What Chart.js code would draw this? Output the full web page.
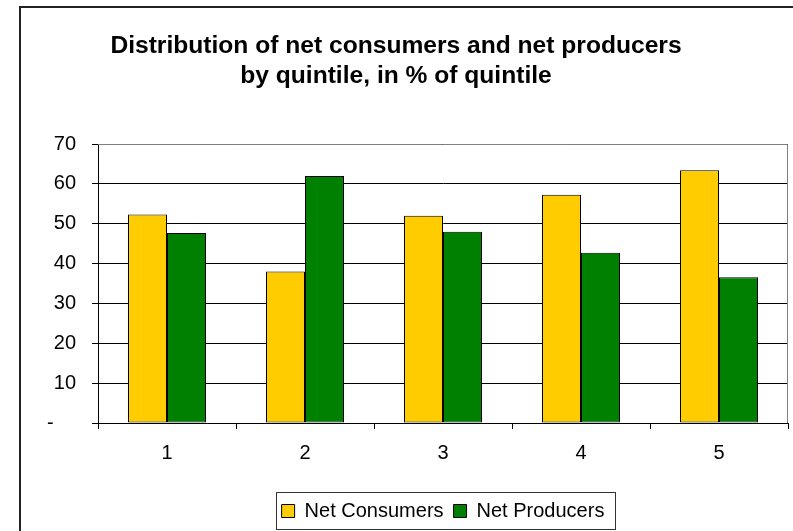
<!DOCTYPE html>
<html>
<head>
<meta charset="utf-8">
<script src="https://cdn.jsdelivr.net/npm/chart.js@4.4.1/dist/chart.umd.min.js"></script>
<style>
  html, body { margin: 0; padding: 0; background: #fff; }
  #chart { display: block; }
</style>
</head>
<body>
<canvas id="chart" width="793" height="531"></canvas>
<script>
// values
var quintiles = ['1', '2', '3', '4', '5'];
var netConsumers = [52.3, 38.0, 52.0, 57.3, 63.4];
var netProducers = [47.7, 62.0, 48.0, 42.7, 36.6];
var yTickLabels = ['-    ', '10', '20', '30', '40', '50', '60', '70'];
var titleLines = ['Distribution of net consumers and net producers', 'by quintile, in % of quintile'];

Chart.defaults.font.family = '"Liberation Sans", Arial, sans-serif';
Chart.defaults.color = '#000';

// frame of the chart, legend box and plot-area border
var decorations = {
    id: 'decorations',
    afterLayout: function(chart) {
        // Excel centres the legend on the plot area, the title on the chart
        var lg = chart.legend;
        var d = (chart.chartArea.left + chart.chartArea.right) / 2 - (lg.left + lg.right) / 2;
        lg.left += d;
        lg.right += d;
        var t = chart.titleBlock;
        var dt = 396 - (t.left + t.right) / 2;
        t.left += dt;
        t.right += dt;
    },
    beforeDraw: function(chart) {
        var ctx = chart.ctx;
        ctx.save();
        ctx.fillStyle = '#fff';
        ctx.fillRect(0, 0, chart.width, chart.height);
        ctx.strokeStyle = '#222';
        ctx.lineWidth = 2;
        ctx.beginPath();
        ctx.moveTo(20, chart.height);
        ctx.lineTo(20, 7);
        ctx.lineTo(chart.width, 7);
        ctx.stroke();
        ctx.restore();
    },
    afterDatasetsDraw: function(chart) {
        var a = chart.chartArea;
        var ctx = chart.ctx;
        ctx.save();
        ctx.strokeStyle = '#808080';
        ctx.lineWidth = 1;
        ctx.beginPath();
        ctx.moveTo(a.left, a.top + 0.5);
        ctx.lineTo(a.right - 0.5, a.top + 0.5);
        ctx.lineTo(a.right - 0.5, a.bottom);
        ctx.stroke();
        ctx.restore();
    },
    afterDraw: function(chart) {
        var hb = chart.legend.legendHitBoxes;
        if (!hb || !hb.length) return;
        var l = Infinity, r = -Infinity, t = Infinity, b = -Infinity;
        hb.forEach(function(h) {
            l = Math.min(l, h.left);
            r = Math.max(r, h.left + h.width);
            t = Math.min(t, h.top);
            b = Math.max(b, h.top + h.height);
        });
        var ctx = chart.ctx;
        ctx.save();
        ctx.strokeStyle = '#333';
        ctx.lineWidth = 1;
        ctx.strokeRect(Math.round(l - 6) + 0.5, Math.round(t - 9) + 0.5, Math.round(r - l + 16), Math.round(b - t + 17));
        ctx.restore();
    }
};

new Chart(document.getElementById('chart'), {
    type: 'bar',
    data: {
        labels: quintiles,
        datasets: [{
            label: 'Net Consumers',
            data: netConsumers,
            backgroundColor: '#FFCC00',
            borderColor: '#000',
            borderWidth: 1,
            borderSkipped: false
        }, {
            label: 'Net Producers',
            data: netProducers,
            backgroundColor: '#008000',
            borderColor: '#000',
            borderWidth: 1,
            borderSkipped: false
        }]
    },
    options: {
        responsive: false,
        animation: false,
        devicePixelRatio: 1,
        layout: { padding: { left: 0, right: 5, top: 0, bottom: 0 } },
        datasets: {
            bar: { categoryPercentage: 78 / 138, barPercentage: 1.0 }
        },
        plugins: {
            title: {
                display: true,
                text: titleLines,
                color: '#000',
                font: { size: 24.6, weight: 'bold', lineHeight: 1.22 },
                padding: { top: 31, bottom: 53 }
            },
            legend: {
                position: 'bottom',
                labels: {
                    boxWidth: 13,
                    boxHeight: 13,
                    padding: 10,
                    color: '#000',
                    font: { size: 20 }
                }
            },
            tooltip: { enabled: false }
        },
        scales: {
            x: {
                grid: {
                    drawOnChartArea: false,
                    drawTicks: true,
                    tickLength: 6,
                    color: '#000',
                    offset: true
                },
                border: { color: '#000' },
                ticks: { padding: 12, font: { size: 20 }, color: '#000' },
                afterFit: function(scale) { scale.height = 68; }
            },
            y: {
                min: 0,
                max: 70,
                grid: {
                    color: '#000',
                    tickLength: 6
                },
                border: { color: '#000' },
                ticks: {
                    stepSize: 10,
                    padding: 16,
                    font: { size: 20 },
                    color: '#000',
                    callback: function(value) { return yTickLabels[value / 10]; }
                },
                afterFit: function(scale) { scale.width = 98; }
            }
        }
    },
    plugins: [decorations]
});
</script>
</body>
</html>
